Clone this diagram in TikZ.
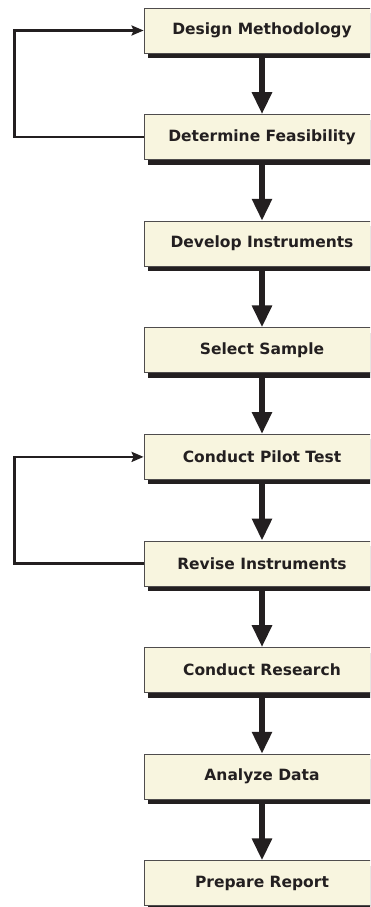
\documentclass[tikz,border=0pt]{standalone}
\usepackage{fontspec}
\setmainfont{DejaVu Sans}
\usetikzlibrary{arrows.meta,shadows}
\definecolor{boxfill}{HTML}{F8F5DF}
\definecolor{ink}{HTML}{231F20}
\begin{document}
\begin{tikzpicture}[x=1pt,y=1pt,
  stepbox/.style={draw=ink!80, line width=0.8pt, fill=boxfill,
    minimum width=236pt, minimum height=45pt, inner sep=0pt,
    font=\bfseries\fontsize{15.5}{18}\selectfont, text=ink,
    drop shadow={shadow xshift=4pt, shadow yshift=-5pt, fill=ink, opacity=1}},
  flow/.style={draw=ink, line width=5.5pt, -{Triangle[width=19pt,length=22pt]}},
  loopback/.style={draw=ink, line width=2.4pt, -{Stealth[length=12pt,width=10pt,inset=2pt]}}]
\useasboundingbox (0,0) rectangle (370,-907);
\clip (0,0) rectangle (370,-907);
\fill[white] (0,0) rectangle (370,-907);

\node[stepbox] (s1) at (262,-30.5) {Design Methodology};
\node[stepbox] (s2) at (262,-137.1) {Determine Feasibility};
\node[stepbox] (s3) at (262,-243.7) {Develop Instruments};
\node[stepbox] (s4) at (262,-350.3) {Select Sample};
\node[stepbox] (s5) at (262,-456.9) {Conduct Pilot Test};
\node[stepbox] (s6) at (262,-563.5) {Revise Instruments};
\node[stepbox] (s7) at (262,-670.1) {Conduct Research};
\node[stepbox] (s8) at (262,-776.7) {Analyze Data};
\node[stepbox] (s9) at (262,-883.3) {Prepare Report};

\foreach \a/\b in {s1/s2,s2/s3,s3/s4,s4/s5,s5/s6,s6/s7,s7/s8,s8/s9}
  \draw[flow] ([yshift=-4pt]\a.south) -- (\b.north);

\draw[loopback] (s2.west) -- ++(-129,0) |- (s1.west);
\draw[loopback] (s6.west) -- ++(-129,0) |- (s5.west);
\end{tikzpicture}
\end{document}
